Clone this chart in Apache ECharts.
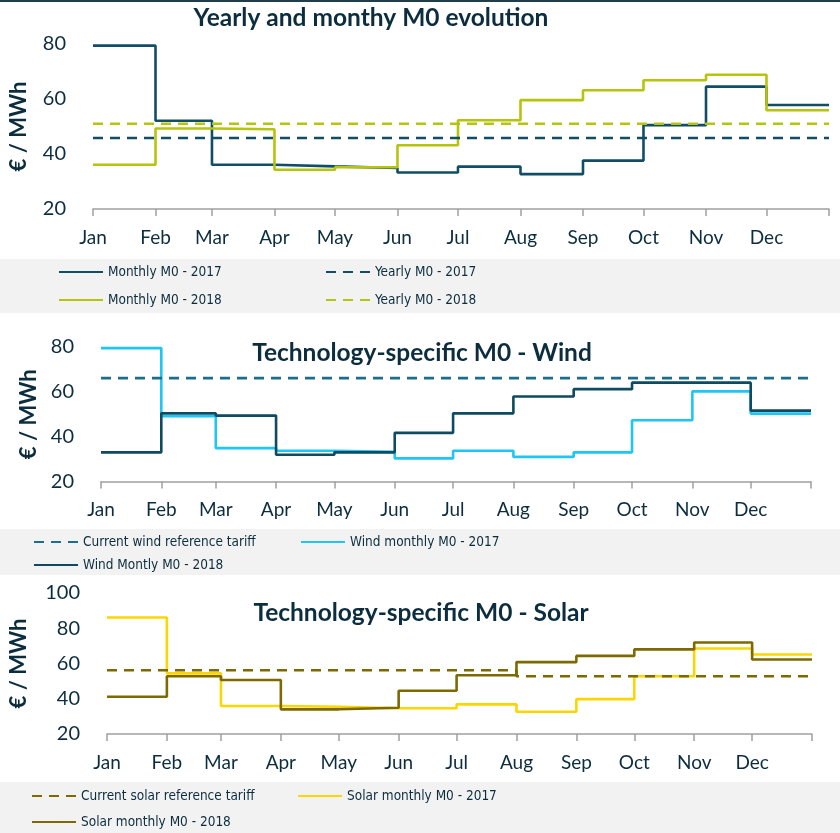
<!DOCTYPE html>
<html>
<head>
<meta charset="utf-8">
<script src="https://cdn.jsdelivr.net/npm/echarts@6/dist/echarts.min.js"></script>
<style>
html,body{margin:0;padding:0;background:#fff;}
#c{width:840px;height:833px;}
</style>
</head>
<body>
<div id="c"></div>
<script>
// ---- Data ----
const months = ['Jan','Feb','Mar','Apr','May','Jun','Jul','Aug','Sep','Oct','Nov','Dec'];
const monthStartDay = [0,31,59,90,120,151,181,212,243,273,304,334];
const yearEndDay = 365;

const monthly2017 = [79.4, 52.1, 36.1, 35.5, 34.9, 33.3, 35.4, 32.7, 37.6, 50.5, 64.5, 57.8];
const monthly2018 = [36.1, 49.3, 49.0, 34.3, 35.2, 43.2, 52.3, 59.6, 63.2, 66.8, 68.8, 55.9];
const yearly2017 = 45.8;
const yearly2018 = 51.0;

const wind2017 = [79.5, 49.1, 34.9, 33.7, 33.2, 30.3, 33.7, 31.0, 33.0, 47.3, 60.2, 50.3];
const wind2018 = [33.0, 50.4, 49.4, 31.9, 33.0, 41.7, 50.4, 57.9, 61.2, 64.1, 64.1, 51.6];
const windTariff = 66.1;

const solar2017 = [86.1, 54.4, 35.9, 35.5, 34.6, 34.6, 36.8, 32.6, 39.8, 52.8, 68.5, 65.1];
const solar2018 = [41.1, 52.8, 50.6, 34.0, 34.9, 44.5, 53.3, 60.8, 64.3, 68.0, 71.9, 62.3];
const solarTariff = [56.2, 56.2, 56.2, 56.2, 56.2, 56.2, 56.2, 52.8, 52.8, 52.8, 52.8, 52.8];

const yTicks1 = [20, 80, 20];   // min, max, interval
const yTicks2 = [20, 80, 20];
const yTicks3 = [20, 100, 20];

// ---- Helpers ----
function stepData(vals) {
  const d = monthStartDay.map((day, i) => [day, vals[i]]);
  d.push([yearEndDay, vals[vals.length - 1]]);
  return d;
}
function flatData(v) {
  return [[0, v], [yearEndDay, v]];
}

const TXT = '#0c2d3e';
const FONT = 'Lato';
const LEGFONT = '"Liberation Sans Narrow", "DejaVu Sans Condensed", "Open Sans Condensed", Lato';

function xAxis(gridIndex) {
  return {
    type: 'value', gridIndex, min: 0, max: yearEndDay,
    axisLine: { show: true, lineStyle: { color: '#a0a0a0', width: 1.5 } },
    axisTick: { show: true, customValues: monthStartDay.concat([yearEndDay]), length: 7, lineStyle: { color: '#a0a0a0', width: 1.5 } },
    axisLabel: {
      customValues: monthStartDay,
      formatter: v => months[monthStartDay.indexOf(v)],
      color: TXT, fontFamily: FONT, fontSize: 19, margin: 19
    },
    splitLine: { show: false }
  };
}
function yAxis(gridIndex, t, nameGap) {
  return {
    type: 'value', gridIndex, min: t[0], max: t[1], interval: t[2],
    name: '€ / MWh', nameLocation: 'middle', nameGap,
    nameTextStyle: { color: TXT, fontFamily: FONT, fontSize: 22, fontWeight: 'bold' },
    axisLine: { show: false }, axisTick: { show: false },
    axisLabel: { color: TXT, fontFamily: FONT, fontSize: 20, margin: 27 },
    splitLine: { show: false }
  };
}
function line(name, idx, data, color, dashed, z) {
  return {
    name, type: 'line', xAxisIndex: idx, yAxisIndex: idx, data,
    step: 'end', symbol: 'none', z: z || 2,
    lineStyle: { color, width: 2.6, type: dashed ? [10, 7] : 'solid' },
    itemStyle: { color }, animation: false
  };
}
function legend(names, left, top, gap) {
  return {
    data: names, orient: 'vertical', left, top, itemGap: gap, padding: 0,
    itemWidth: 44, itemHeight: 14, selectedMode: false,
    itemStyle: { opacity: 0, color: 'transparent', borderWidth: 0 },
    textStyle: { color: TXT, fontFamily: LEGFONT, fontSize: 13.5, lineHeight: 16 }
  };
}
function title(text, x, y) {
  return { type: 'text', x, y, silent: true,
    style: { text, fill: TXT, fontFamily: FONT, fontSize: 24.5, fontWeight: 'bold', align: 'center', verticalAlign: 'middle' } };
}

const C1a = '#124d66', C1b = '#b5c40c';
const CW17 = '#1ec6f5', CW18 = '#0e4a60', CWT = '#1b6f8d';
const CS17 = '#fcd600', CS18 = '#7d6900';

const option = {
  animation: false,
  grid: [
    { left: 88, top: 44, width: 741, height: 165 },
    { left: 101, top: 347, width: 710, height: 134.5 },
    { left: 97, top: 593, width: 715, height: 141 }
  ],
  xAxis: [xAxis(0), xAxis(1), xAxis(2)],
  yAxis: [yAxis(0, yTicks1, 63), yAxis(1, yTicks2, 59), yAxis(2, yTicks3, 77)],
  graphic: {
    elements: [
      { type: 'rect', shape: { x: 0, y: 0, width: 840, height: 2 }, style: { fill: '#1f3e4c' }, silent: true },
      { type: 'rect', shape: { x: 0, y: 259, width: 840, height: 54 }, style: { fill: '#f2f2f2' }, silent: true, z: -10 },
      { type: 'rect', shape: { x: 0, y: 529, width: 840, height: 46 }, style: { fill: '#f2f2f2' }, silent: true, z: -10 },
      { type: 'rect', shape: { x: 0, y: 782, width: 840, height: 51 }, style: { fill: '#f2f2f2' }, silent: true, z: -10 },
      title('Yearly and monthy M0 evolution', 371, 18),
      title('Technology-specific M0 - Wind', 422, 353),
      title('Technology-specific M0 - Solar', 421, 613)
    ]
  },
  legend: [
    legend(['Monthly M0 - 2017', 'Monthly M0 - 2018'], 58, 264, 12),
    legend(['Yearly M0 - 2017', 'Yearly M0 - 2018'], 325, 264, 12),
    legend(['Current wind reference tariff', 'Wind Montly M0 - 2018'], 33, 534, 7),
    legend(['Wind monthly M0 - 2017'], 300, 534, 7),
    legend(['Current solar reference tariff', 'Solar monthly M0 - 2018'], 31, 788, 10),
    legend(['Solar monthly M0 - 2017'], 297, 788, 10)
  ],
  series: [
    line('Monthly M0 - 2017', 0, stepData(monthly2017), C1a, false, 2),
    line('Monthly M0 - 2018', 0, stepData(monthly2018), C1b, false, 3),
    line('Yearly M0 - 2017', 0, flatData(yearly2017), C1a, true, 4),
    line('Yearly M0 - 2018', 0, flatData(yearly2018), C1b, true, 4),

    line('Current wind reference tariff', 1, flatData(windTariff), CWT, true, 4),
    line('Wind monthly M0 - 2017', 1, stepData(wind2017), CW17, false, 2),
    line('Wind Montly M0 - 2018', 1, stepData(wind2018), CW18, false, 3),

    line('Solar monthly M0 - 2017', 2, stepData(solar2017), CS17, false, 2),
    line('Solar monthly M0 - 2018', 2, stepData(solar2018), CS18, false, 3),
    line('Current solar reference tariff', 2, stepData(solarTariff), CS18, true, 4)
  ]
};

const chart = echarts.init(document.getElementById('c'), null, { renderer: 'canvas' });
chart.setOption(option);
</script>
</body>
</html>
